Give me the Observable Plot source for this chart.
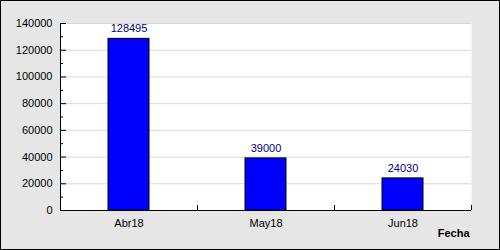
<!DOCTYPE html>
<html><head><meta charset="utf-8">
<script src="https://cdn.jsdelivr.net/npm/d3@7"></script>
<script src="https://cdn.jsdelivr.net/npm/@observablehq/plot@0.6"></script>
<style>body{margin:0;}</style>
</head><body><div id="chart"></div>
<script>
const categories = ["Abr18", "May18", "Jun18"];
const values = [128495, 39000, 24030];
const majorTicks = [0, 20000, 40000, 60000, 80000, 100000, 120000, 140000];
const minorTicks = [10000, 30000, 50000, 70000, 90000, 110000, 130000];
const xLabel = "Fecha";

const data = categories.map((c, i) => ({cat: c, value: values[i]}));
const W = 500, H = 250, ML = 60, MR = 29, MT = 23, MB = 40;
const PW = W - ML - MR, PH = H - MT - MB;
const bw = PW / categories.length;
const font = "Liberation Sans, Arial, sans-serif";

const chart = Plot.plot({
  width: W, height: H,
  marginLeft: ML, marginRight: MR, marginTop: MT, marginBottom: MB,
  style: {background: "#e6e6e6", fontFamily: font, fontSize: "11px", color: "black"},
  x: {domain: categories, padding: 0, label: null},
  y: {domain: [0, 140000], label: null},
  marks: [
    Plot.frame({fill: "white", stroke: null}),
    Plot.ruleY(majorTicks, {y: d => d, stroke: "#d8d8d8", strokeWidth: 1}),
    Plot.barY(data, {x: "cat", y: "value", fill: "#0000ff", stroke: "black", strokeWidth: 1, insetLeft: 48, insetRight: 48}),
    Plot.text(data, {x: "cat", y: "value", text: d => String(d.value), dy: -10, fill: "#000080", fontSize: 11}),
    Plot.ruleY(majorTicks, {y: d => d, stroke: "black", insetRight: PW - 6}),
    Plot.ruleY(minorTicks, {y: d => d, stroke: "black", insetRight: PW - 3}),
    Plot.ruleX(categories, {x: d => d, dx: bw / 2, stroke: "black", insetTop: PH - 5}),
    Plot.axisY(majorTicks, {tickSize: 0, tickPadding: 8, tickFormat: d => String(d), fontSize: 11, fill: "black"}),
    Plot.axisX({tickSize: 0, tickPadding: 9, fontSize: 11, fill: "black"}),
    Plot.ruleY([0], {stroke: "black"}),
    Plot.frame({anchor: "left", stroke: "black"}),
    Plot.text([xLabel], {frameAnchor: "bottom-right", text: d => d, dy: 26, dx: -2, fontWeight: "bold", fontSize: 11, fill: "black", textAnchor: "end"})
  ]
});
d3.select(chart).append("rect")
  .attr("x", 0.5).attr("y", 0.5).attr("width", W - 1).attr("height", H - 1)
  .attr("fill", "none").attr("stroke", "black");
document.getElementById("chart").append(chart);
</script></body></html>
